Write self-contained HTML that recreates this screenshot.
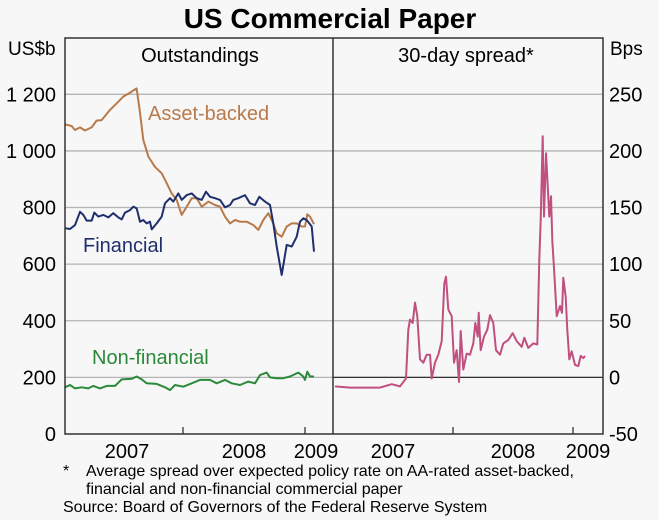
<!DOCTYPE html>
<html><head><meta charset="utf-8"><style>
body{margin:0;background:#f7f7f7;}
svg{display:block;font-family:"Liberation Sans",sans-serif;}
</style></head><body>
<svg id="c" width="659" height="520">
<rect width="659" height="520" fill="#f7f7f7"/>
<text x="330" y="28" font-size="28" font-weight="bold" text-anchor="middle">US Commercial Paper</text>
<g id="grid"></g>
<g id="lines"></g>
<g id="frame"></g>
<text x="8" y="55" font-size="19">US$b</text>
<text x="610" y="55" font-size="19">Bps</text>
<text x="200" y="62" font-size="20" text-anchor="middle">Outstandings</text>
<text x="466" y="62" font-size="20" text-anchor="middle">30-day spread*</text>
<text x="148" y="120" font-size="20" fill="#b87a4a">Asset-backed</text>
<text x="83" y="252" font-size="20" fill="#1f2f6e">Financial</text>
<text x="92" y="364" font-size="20" fill="#2a8a3a">Non-financial</text>
<text x="63" y="476" font-size="16">*</text>
<text x="86" y="476" font-size="16">Average spread over expected policy rate on AA-rated asset-backed,</text>
<text x="86" y="494" font-size="16">financial and non-financial commercial paper</text>
<text x="63" y="512" font-size="16">Source: Board of Governors of the Federal Reserve System</text>
</svg>
<script>
const leftTicks=[0,200,400,600,800,1000,1200];
const leftTickLabels=["0","200","400","600","800","1 000","1 200"];
const rightTicks=[-50,0,50,100,150,200,250];
const rightTickLabels=["-50","0","50","100","150","200","250"];
const yearLabels=["2007","2008","2009"];
const abDates=[2007.03,2007.087,2007.115,2007.156,2007.197,2007.251,2007.292,2007.333,2007.402,2007.456,2007.511,2007.566,2007.620,2007.648,2007.675,2007.716,2007.770,2007.825,2007.866,2007.907,2007.948,2007.989,2008.030,2008.071,2008.112,2008.153,2008.208,2008.262,2008.303,2008.344,2008.385,2008.426,2008.467,2008.522,2008.577,2008.617,2008.658,2008.699,2008.740,2008.768,2008.809,2008.850,2008.891,2008.932,2008.973,2009.0,2009.019,2009.041,2009.074];
const abValues=[1094,1088,1074,1083,1072,1083,1107,1109,1145,1168,1192,1206,1221,1133,1039,980,944,921,886,850,827,774,803,833,833,803,821,809,803,768,744,756,750,750,738,721,756,780,744,709,697,733,744,744,733,733,776,768,741];
const finZx=[195,210,225,240,250,260,275,283,295,310,325,340,355,365,375,390,400,410,420,430,440,450,455,470,485,495,510,520,535,545,560,575,590,605,618,630,645,660,675,690,700,715,735,750,765,778,795,810,820,830,845,860,875,890,900,910,920,935,942];
const finValues=[727,724,738,785,774,754,754,782,768,774,765,780,765,758,782,791,803,797,750,756,744,750,723,744,768,815,833,821,850,827,844,850,833,827,856,838,833,827,801,809,827,833,844,815,809,838,821,809,744,662,562,668,662,697,750,762,756,733,644];
const nfZx=[195,210,225,245,265,280,300,320,345,365,395,410,425,440,470,495,510,525,550,575,600,630,650,675,695,720,745,765,780,800,810,830,850,870,895,910,915,922,930,942];
const nfValues=[165,173,161,165,161,170,161,170,170,193,195,203,193,179,177,165,155,173,167,179,191,191,179,191,179,173,185,179,208,217,200,197,197,203,217,203,191,220,203,203];
const spZx=[15,60,100,150,185,210,228,235,240,248,255,262,270,280,290,300,305,315,325,335,343,348,355,365,372,380,387,392,400,410,420,430,436,443,446,452,462,472,480,490,498,510,520,535,548,560,575,583,595,610,622,628,632,638,642,648,653,658,663,667,673,680,690,696,700,707,712,718,725,735,745,752,760,765];
const spValues=[-8,-9,-9,-9,-6,-8,-1,42,51,48,66,54,16,13,20,20,-1,13,20,32,83,89,60,54,13,24,-4,41,7,21,20,30,48,36,57,24,36,42,55,48,24,20,30,33,39,32,27,35,26,30,29,104,139,213,142,198,169,142,160,121,92,54,63,57,88,71,42,16,23,11,10,19,17,19];
const finDates=finZx.map(z=>2007+(z-183)/366);
const nfDates=nfZx.map(z=>2007+(z-183)/366);
const spDates=spZx.map(z=>2007+(z-9)/360);

const NS="http://www.w3.org/2000/svg";
const L=65,M=333,R=603,T=38,B=434;
const yL=v=>B-(v/1200)*(B-94.3);
const yR=v=>B-((v+50)/300)*(B-94.3);
const xL=t=>61+(t-2007)*122;
const xR=t=>333+(t-2007)*120;
function mk(tag,attrs,parent){const e=document.createElementNS(NS,tag);for(const k in attrs)e.setAttribute(k,attrs[k]);document.getElementById(parent).appendChild(e);return e;}
leftTicks.forEach((v,i)=>{
  if(v>0){const g=mk('line',{x1:L,x2:R,y1:yL(v),y2:yL(v),stroke:'#b4b4b4','stroke-width':1.3},'grid');
  
  }
  const t=mk('text',{x:56,y:yL(v)+7,'font-size':20,'text-anchor':'end'},'frame');t.textContent=leftTickLabels[i];
  
  
});
rightTicks.forEach((v,i)=>{
  const t=mk('text',{x:609,y:yR(v)+7,'font-size':20},'frame');t.textContent=rightTickLabels[i];
  
  
});
const z=mk('line',{x1:M,x2:R,y1:yR(0),y2:yR(0),stroke:'#333','stroke-width':1.3},'grid');


function path(dates,vals,xf,yf,color,name){
  const d=dates.map((t,i)=>(i?'L':'M')+xf(t).toFixed(1)+','+yf(vals[i]).toFixed(1)).join('');
  const p=mk('path',{d:d,fill:'none',stroke:color,'stroke-width':2,'stroke-linejoin':'round'},'lines');
  
  
}
path(abDates,abValues,xL,yL,'#b87a4a','asset-backed-line');
path(finDates,finValues,xL,yL,'#1f2f6e','financial-line');
path(nfDates,nfValues,xL,yL,'#2a8a3a','non-financial-line');
path(spDates,spValues,xR,yR,'#c0507f','spread-line');
const f=mk('rect',{x:L,y:T,width:R-L,height:B-T,fill:'none',stroke:'#333','stroke-width':1.5},'frame');


const dv=mk('line',{x1:M,x2:M,y1:T,y2:B,stroke:'#333','stroke-width':1.5},'frame');


[[xL,[2008,2009]],[xR,[2008,2009]]].forEach(([xf,ts])=>ts.forEach(t=>{
  const k=mk('line',{x1:xf(t),x2:xf(t),y1:B,y2:B-7,stroke:'#333','stroke-width':1.3},'frame');
  
  
}));
const labX=[[127,244,316],[393,513,588]];
labX.forEach(arr=>arr.forEach((x,i)=>{
  const t=mk('text',{x:x,y:458,'font-size':20,'text-anchor':'middle'},'frame');t.textContent=yearLabels[i];
  
  
}));
</script>
</body></html>
